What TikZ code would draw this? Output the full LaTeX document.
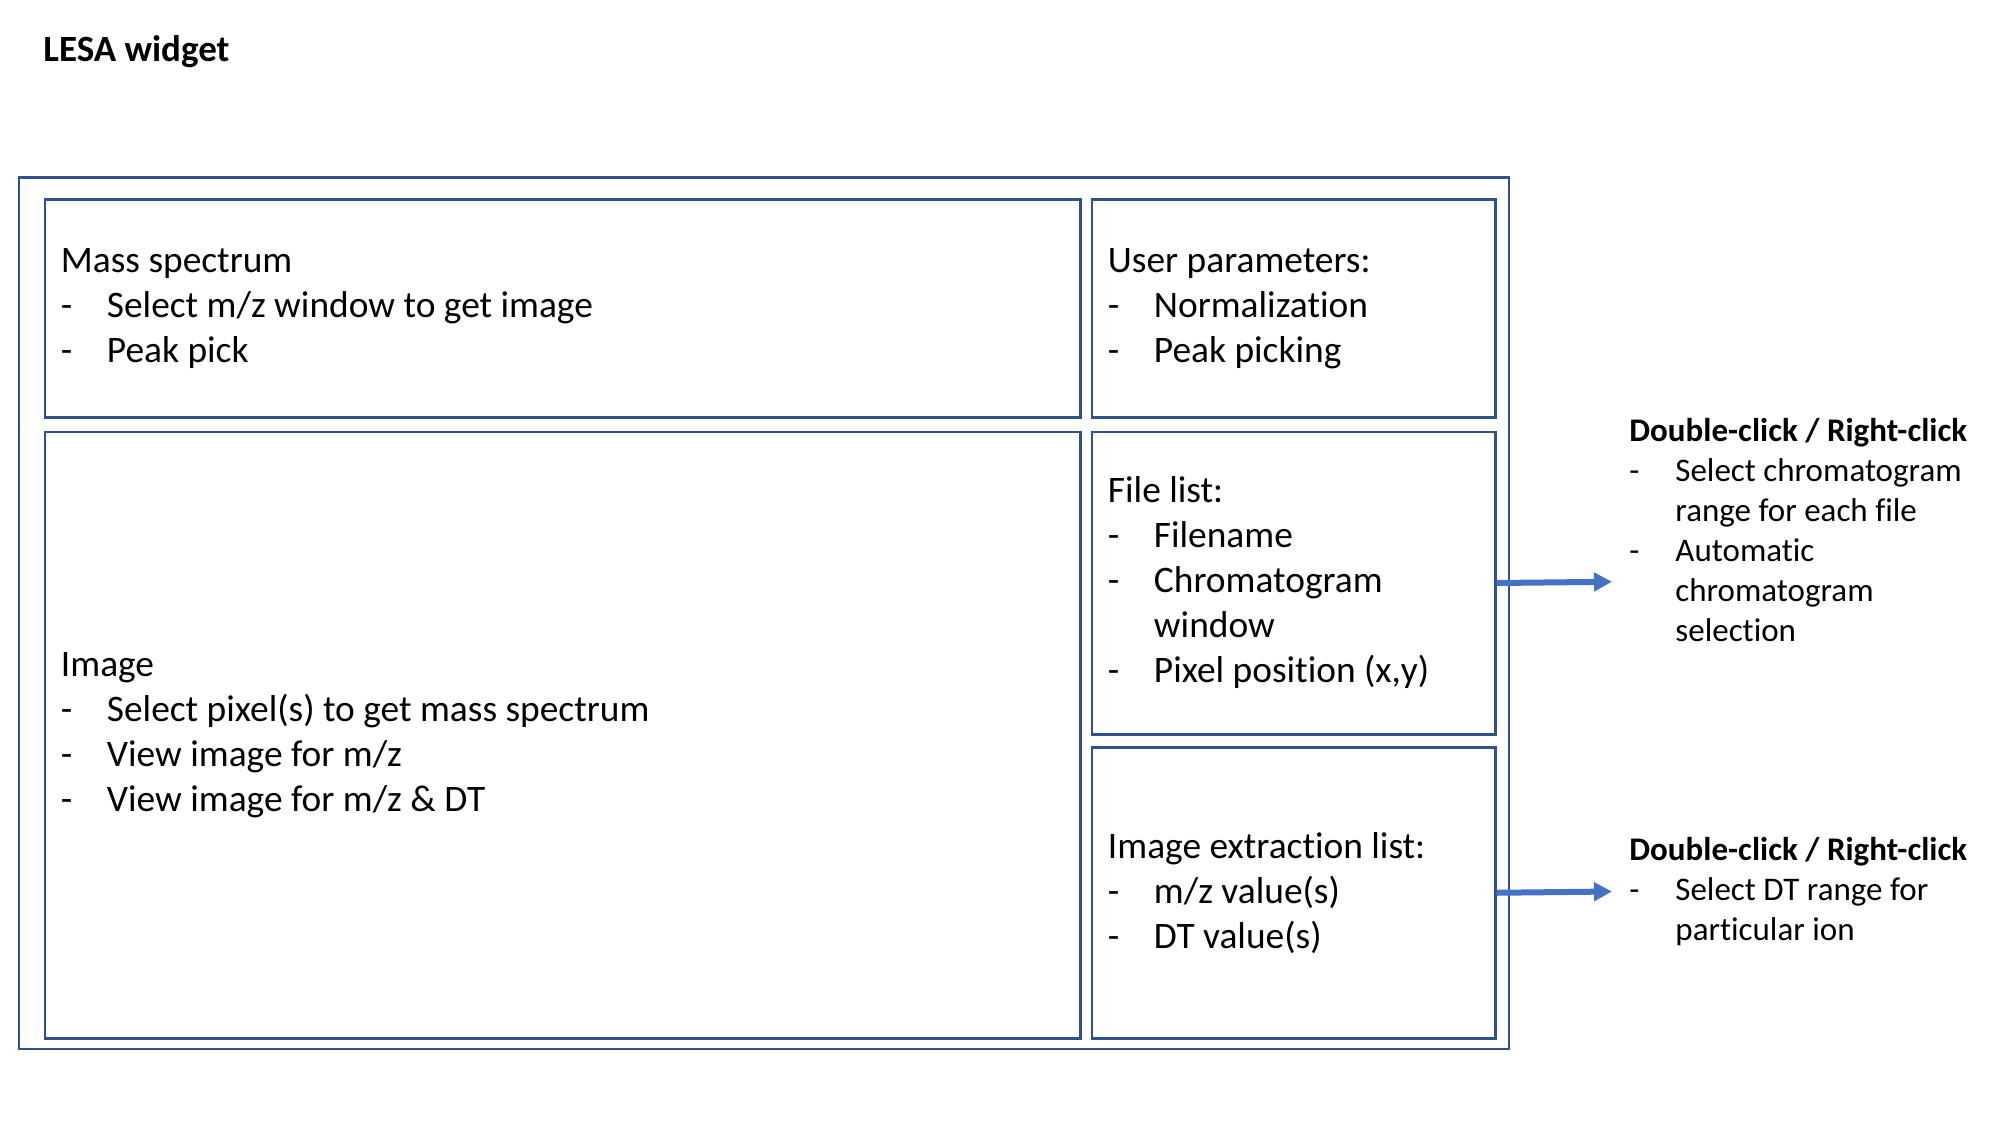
\documentclass[tikz,border=0pt]{standalone}
\usepackage{fontspec}
\setmainfont{Carlito}[Ligatures=NoCommon]
\usetikzlibrary{arrows.meta}
\definecolor{boxblue}{HTML}{2F528F}
\definecolor{arrblue}{HTML}{4472C4}
\newcommand\dashitem[1]{\makebox[23pt][l]{-}#1}
\newcommand\contline[1]{\hspace*{23pt}#1}
\newcommand\natsp{\spaceskip=0pt\xspaceskip=0pt\relax}
\begin{document}
\begin{tikzpicture}[x=0.5pt,y=-0.5pt,
  box/.style={draw=boxblue, line width=1.25pt, anchor=north west, inner xsep=8pt, inner ysep=0pt, align=left,
    font=\fontsize{18.7pt}{22.5pt}\selectfont},
  side/.style={inner sep=0pt, align=left, anchor=base west, font=\fontsize{16.5pt}{20pt}\selectfont},
  arr/.style={draw=arrblue, line width=3pt, -{Triangle[length=9pt,width=9pt]}}]
\useasboundingbox (0,0) rectangle (2000,1125);
\node[inner sep=0pt, anchor=base west, font=\fontsize{18.5pt}{22.5pt}\selectfont\bfseries] (title) at (43,61) {LESA widget};
\node[draw=boxblue, line width=1.25pt, anchor=north west, inner sep=0pt, minimum width=745pt, minimum height=435.85pt] (widget) at (17.7,176) {};
\node[box, minimum width=517.65pt, minimum height=109pt, text width=501.65pt] (ms) at (43.7,198)
  {\natsp Mass spectrum\\ \dashitem{Select m/z window to get image}\\ \dashitem{Peak pick}};
\node[box, minimum width=201.65pt, minimum height=109pt, text width=185.65pt] (up) at (1090.7,198)
  {\natsp User parameters:\\ \dashitem{Normalization}\\ \dashitem{Peak picking}};
\node[box, minimum width=517.65pt, minimum height=303.25pt, text width=501.65pt] (img) at (43.7,430.5)
  {\natsp Image\\ \dashitem{Select pixel(s) to get mass spectrum}\\ \dashitem{View image for m/z}\\ \dashitem{View image for m/z \& DT}};
\node[box, minimum width=201.65pt, minimum height=151.25pt, text width=185.65pt] (fl) at (1090.7,430.5)
  {\natsp File list:\\ \dashitem{Filename}\\ \dashitem{Chromatogram}\\ \contline{window}\\ \dashitem{Pixel position (x,y)}};
\node[box, minimum width=201.65pt, minimum height=145.5pt, text width=185.65pt] (iel) at (1090.7,746)
  {\natsp Image extraction list:\\ \dashitem{m/z value(s)}\\ \dashitem{DT value(s)}};
\coordinate (tip1) at (1612,581.75);
\coordinate (tip2) at (1612,891.5);
\draw[arr] (fl.east) -- (tip1);
\draw[arr] (iel.east) -- (tip2);
\node[side] (dc1) at (1629,641)
  {\textbf{Double-click / Right-click}\\ \dashitem{Select chromatogram}\\ \contline{range for each file}\\ \dashitem{Automatic}\\ \contline{chromatogram}\\ \contline{selection}};
\node[side] (dc2) at (1629,940)
  {\textbf{Double-click / Right-click}\\ \dashitem{Select DT range for}\\ \contline{particular ion}};
\end{tikzpicture}
\end{document}
